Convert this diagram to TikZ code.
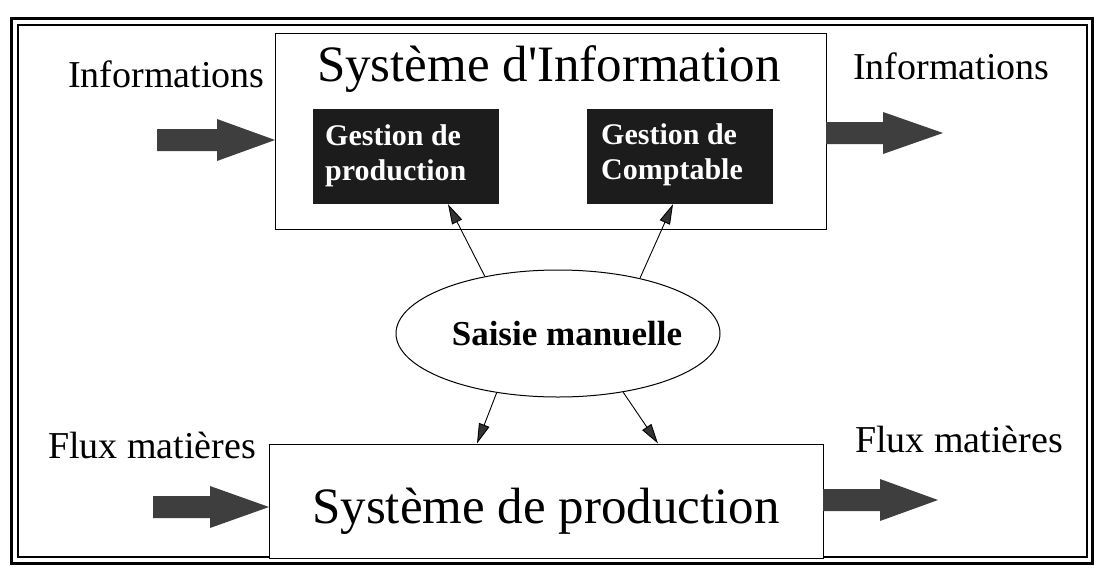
\documentclass[tikz,border=0pt]{standalone}
\usepackage{fontspec}
\newfontfamily\tnr{Liberation Serif}
\usetikzlibrary{arrows.meta,shapes.geometric}
\definecolor{darkfill}{HTML}{1C1C1C}
\definecolor{blockfill}{HTML}{3E3E3E}
\definecolor{tipfill}{HTML}{333333}
\newcommand\barrow[4]{%
  \fill[blockfill] (#1,#4-11) -- (#2,#4-11) -- (#2,#4-21) -- (#3,#4) -- (#2,#4+21) -- (#2,#4+11) -- (#1,#4+11) -- cycle;}
\begin{document}
\begin{tikzpicture}[x=1pt,y=-1pt,
  box/.style={draw=black, line width=1pt, fill=white, inner sep=0},
  darkbox/.style={fill=darkfill, inner sep=0, minimum width=186pt, minimum height=95pt},
  lbl/.style={font=\tnr\fontsize{38}{40}\selectfont, inner sep=0, anchor=base west},
  bigtitle/.style={font=\tnr\fontsize{51}{54}\selectfont, inner sep=0, anchor=base},
  darktext/.style={font=\tnr\bfseries\fontsize{30}{32}\selectfont, text=white, inner sep=0, anchor=base west},
  ovaltext/.style={font=\tnr\bfseries\fontsize{35}{37}\selectfont, inner sep=0, anchor=base},
  conn/.style={draw=black, line width=0.9pt, -{Triangle[length=20pt,width=11pt,fill=tipfill]}}]
\useasboundingbox (0,0) rectangle (1094,568);
\fill[white] (0,0) rectangle (1094,568);
% frame
\draw[line width=3pt] (11,18) rectangle (1092,563);
\draw[line width=1.2pt] (18,25) rectangle (1087,557);
% Systeme d'Information
\node[box, minimum width=551pt, minimum height=196pt] (si) at (550.5,131) {};
\node[bigtitle] (sititle) at (549,81) {Système d'Information};
\node[darkbox] (gp) at (406,156.5) {};
\node[darktext] (gp1) at (325,145) {Gestion de};
\node[darktext] (gp2) at (325,180) {production};
\node[darkbox] (gc) at (680,156.5) {};
\node[darktext] (gc1) at (601,144) {Gestion de};
\node[darktext] (gc2) at (601,179) {Comptable};
% Saisie manuelle
\node[ellipse, draw=black, line width=1pt, fill=white, inner sep=0, minimum width=324pt, minimum height=127pt] (sm) at (558,333.5) {};
\node[ovaltext] (smt) at (567,345) {Saisie manuelle};
% Systeme de production
\node[box, minimum width=554pt, minimum height=114pt] (sp) at (546,501) {};
\node[bigtitle] (sptitle) at (546,523) {Système de production};
% side labels
\node[lbl] (inL) at (68,87) {Informations};
\node[lbl] (inR) at (853,79) {Informations};
\node[lbl] (fxL) at (48,458) {Flux matières};
\node[lbl] (fxR) at (855,452) {Flux matières};
% block arrows
\barrow{157}{217}{275}{140}
\barrow{826}{883}{943}{133}
\barrow{153}{210}{269}{507}
\barrow{823}{880}{938}{500}
% connectors
\draw[conn] (sm.142) -- ([xshift=42pt]gp.south);
\draw[conn] (sm.34) -- ([xshift=-7pt]gc.south);
\draw[conn] (sm.224) -- ([xshift=-69pt]sp.north);
\draw[conn] (sm.318) -- ([xshift=112pt]sp.north);
\end{tikzpicture}
\end{document}
